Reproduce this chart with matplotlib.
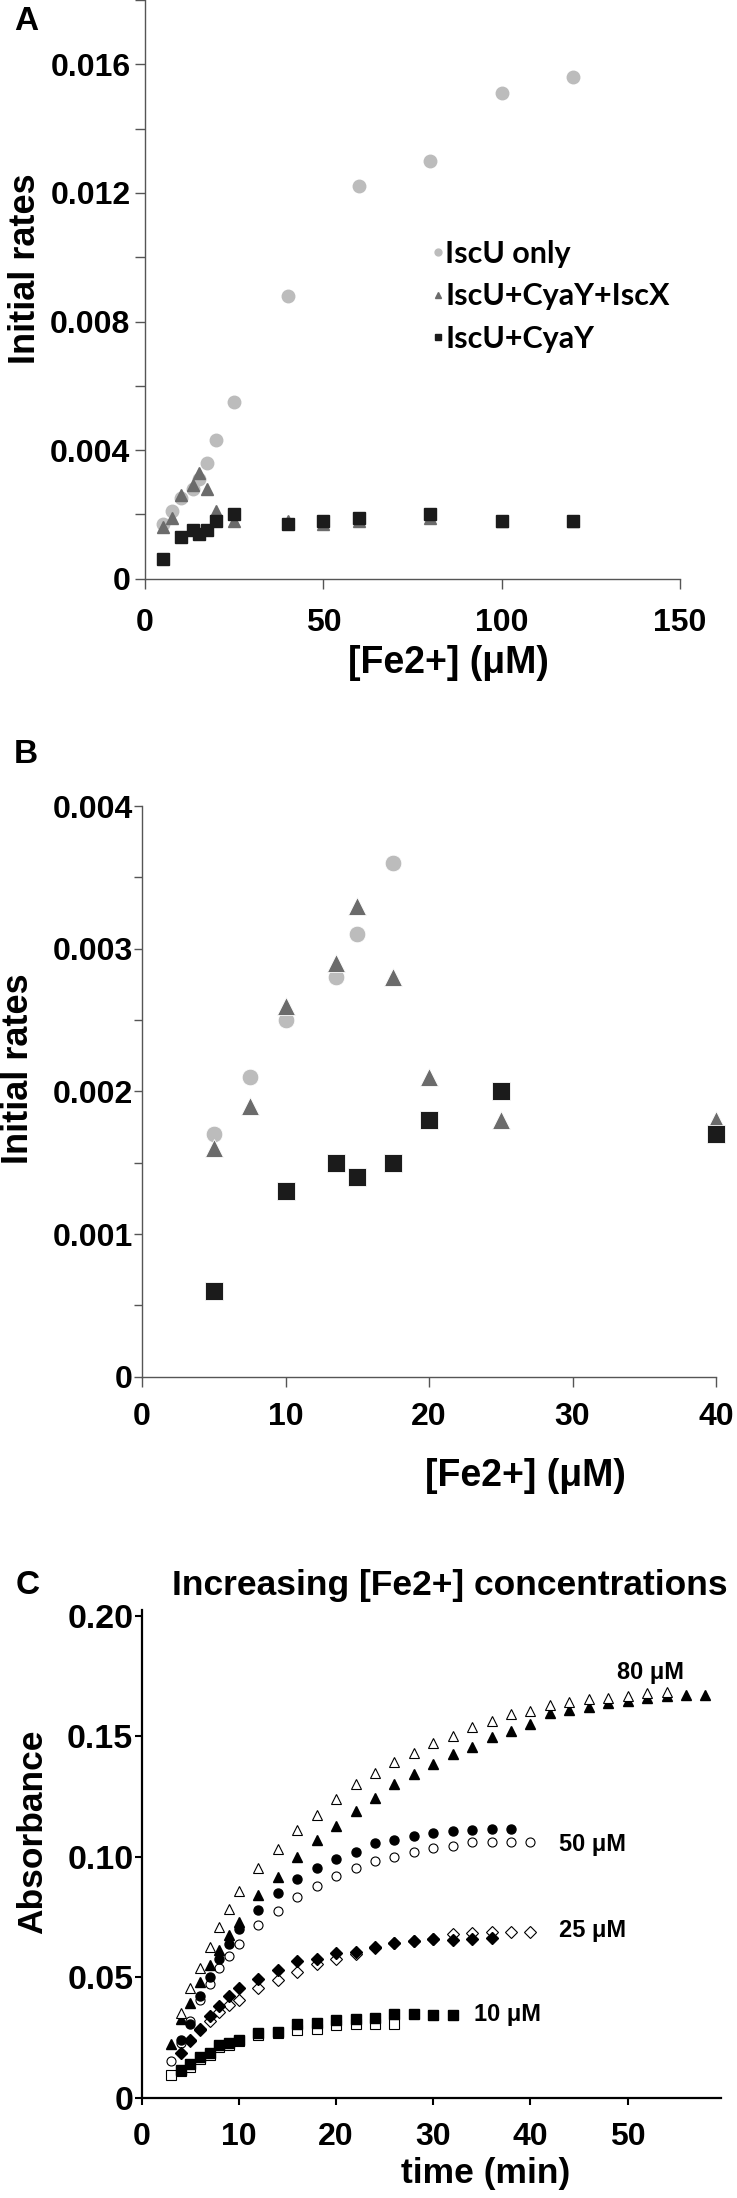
import matplotlib
matplotlib.use("Agg")
import matplotlib.pyplot as plt
from matplotlib.ticker import MultipleLocator, FixedLocator

plt.rcParams['font.family'] = ['Liberation Sans', 'DejaVu Sans']
plt.rcParams['font.weight'] = 'bold'

W, H = 737, 2198

# ---- panels A / B: initial rates vs [Fe2+] ----
fe_iscu = [5, 7.5, 10, 13.5, 15, 17.5, 20, 25, 40, 60, 80, 100, 120]
rate_iscu = [0.0017, 0.0021, 0.0025, 0.0028, 0.0031, 0.0036, 0.0043, 0.0055,
             0.0088, 0.0122, 0.0130, 0.0151, 0.0156]

fe_iscx = [5, 7.5, 10, 13.5, 15, 17.5, 20, 25, 40, 50, 60, 80, 100, 120]
rate_iscx = [0.0016, 0.0019, 0.0026, 0.0029, 0.0033, 0.0028, 0.0021, 0.0018,
             0.0018, 0.0017, 0.0018, 0.0019, 0.0018, 0.0018]

fe_cyay = [5, 10, 13.5, 15, 17.5, 20, 25, 40, 50, 60, 80, 100, 120]
rate_cyay = [0.0006, 0.0013, 0.0015, 0.0014, 0.0015, 0.0018, 0.0020, 0.0017,
             0.0018, 0.0019, 0.0020, 0.0018, 0.0018]

# ---- panel C: absorbance vs time ----
t80_open = [4, 5, 6, 7, 8, 9, 10] + list(range(12, 55, 2))
a80_open = [0.0353, 0.0455, 0.0538, 0.0627, 0.0710, 0.0784, 0.0858,
            0.0955, 0.1031, 0.1111, 0.1173, 0.1240, 0.1300, 0.1346, 0.1394,
            0.1432, 0.1470, 0.1500, 0.1540, 0.1565, 0.1590, 0.1605, 0.1630,
            0.1640, 0.1654, 0.1657, 0.1667, 0.1678, 0.1685]
t80_fill = [3, 4, 5, 6, 7, 8, 9, 10] + list(range(12, 59, 2))
a80_fill = [0.0225, 0.0327, 0.0392, 0.0482, 0.0550, 0.0614, 0.0676, 0.0731,
            0.0842, 0.0918, 0.1001, 0.1070, 0.1129, 0.1191, 0.1242, 0.1300,
            0.1343, 0.1383, 0.1425, 0.1457, 0.1495, 0.1523, 0.1550, 0.1595,
            0.1609, 0.1622, 0.1636, 0.1646, 0.1657, 0.1667, 0.1671, 0.1671]
t50_fill = [4, 5, 6, 7, 8, 9, 10] + list(range(12, 39, 2))
a50_fill = [0.0242, 0.0305, 0.0423, 0.0503, 0.0576, 0.0637, 0.0701,
            0.0779, 0.0849, 0.0907, 0.0955, 0.0992, 0.1019, 0.1056, 0.1070,
            0.1088, 0.1100, 0.1107, 0.1111, 0.1114, 0.1114]
t50_open = [3, 4, 5, 6, 7, 8, 9, 10] + list(range(12, 41, 2))
a50_open = [0.0155, 0.0230, 0.0320, 0.0406, 0.0473, 0.0538, 0.0590, 0.0637,
            0.0716, 0.0775, 0.0832, 0.0880, 0.0920, 0.0952, 0.0984, 0.0999,
            0.1019, 0.1038, 0.1046, 0.1060, 0.1060, 0.1063, 0.1063]
t25_fill = [4, 5, 6, 7, 8, 9, 10] + list(range(12, 37, 2))
a25_fill = [0.0185, 0.0240, 0.0285, 0.0340, 0.0381, 0.0423, 0.0456,
            0.0492, 0.0532, 0.0567, 0.0578, 0.0602, 0.0607, 0.0625, 0.0641,
            0.0652, 0.0659, 0.0655, 0.0659, 0.0665]
t25_open = [5, 6, 7, 8, 9, 10] + list(range(12, 41, 2))
a25_open = [0.0235, 0.0280, 0.0320, 0.0355, 0.0386, 0.0406,
            0.0455, 0.0489, 0.0521, 0.0556, 0.0576, 0.0597, 0.0620, 0.0641,
            0.0650, 0.0660, 0.0680, 0.0683, 0.0687, 0.0690, 0.0690]
t10_fill = [4, 5, 6, 7, 8, 9, 10] + list(range(12, 33, 2))
a10_fill = [0.0115, 0.0141, 0.0169, 0.0185, 0.0218, 0.0230, 0.0242,
            0.0268, 0.0274, 0.0306, 0.0310, 0.0323, 0.0329, 0.0333, 0.0347,
            0.0347, 0.0343, 0.0343]
t10_open = [3, 4, 5, 6, 7, 8, 9, 10] + list(range(12, 27, 2))
a10_open = [0.0097, 0.0110, 0.0127, 0.0160, 0.0180, 0.0210, 0.0220, 0.0235,
            0.0260, 0.0270, 0.0282, 0.0286, 0.0302, 0.0306, 0.0308, 0.0308]

c_light = '#bcbcbc'
c_mid = '#6b6b6b'
c_dark = '#1b1b1b'


def fx(x):
    return x / W


def fy(y):
    return 1 - y / H


def axes_px(left, top, right, bottom):
    return [fx(left), fy(bottom), (right - left) / W, (bottom - top) / H]


fig = plt.figure(figsize=(W / 100, H / 100), dpi=100)


def style_axes(ax, color, lw):
    for s in ['top', 'right']:
        ax.spines[s].set_visible(False)
    for s in ['left', 'bottom']:
        ax.spines[s].set_color(color)
        ax.spines[s].set_linewidth(lw)


# ================= A =================
axA = fig.add_axes(axes_px(145, 0, 680, 578.7))
style_axes(axA, '#555555', 1.0)
axA.plot(fe_iscu, rate_iscu, 'o', ms=9, color=c_light, mec=c_light,
         label='IscU only', clip_on=False, zorder=3)
axA.plot(fe_iscx, rate_iscx, '^', ms=9, color=c_mid, mec=c_mid,
         label='IscU+CyaY+IscX', clip_on=False, zorder=4)
axA.plot(fe_cyay, rate_cyay, 's', ms=9, color=c_dark, mec=c_dark,
         label='IscU+CyaY', clip_on=False, zorder=5)
axA.set_xlim(0, 150)
axA.set_ylim(0, 0.018)
axA.xaxis.set_major_locator(MultipleLocator(50))
axA.yaxis.set_major_locator(FixedLocator([0, 0.004, 0.008, 0.012, 0.016]))
axA.yaxis.set_minor_locator(FixedLocator([0.002, 0.006, 0.010, 0.014, 0.018]))
axA.set_yticklabels(['0', '0.004', '0.008', '0.012', '0.016'])
axA.tick_params(axis='both', which='both', direction='out', color='#555555',
                width=1.0, labelsize=23)
axA.tick_params(axis='y', which='both', length=7, pad=3.5)
axA.tick_params(axis='x', length=7, pad=14)
axA.set_ylabel('Initial rates', fontsize=26, fontweight='bold')
axA.set_xlabel('[Fe2+] (\u03bcM)', fontsize=27, fontweight='bold')
axA.yaxis.label.set_verticalalignment('center')
axA.xaxis.label.set_verticalalignment('center')
axA.yaxis.set_label_coords(fx(26), fy(269), transform=fig.transFigure)
axA.xaxis.set_label_coords(fx(448), fy(663), transform=fig.transFigure)
leg = axA.legend(loc='upper left', bbox_to_anchor=(fx(433), fy(240)),
                 bbox_transform=fig.transFigure, frameon=False, borderpad=0,
                 borderaxespad=0, handlelength=0.3, handletextpad=0.1,
                 labelspacing=0.47, markerscale=0.55,
                 prop={'family': 'Lato', 'weight': 'bold', 'size': 22})
fig.text(fx(26), fy(21), 'A', fontsize=24, fontweight='bold',
         ha='center', va='center')

# ================= B =================
axB = fig.add_axes(axes_px(142, 806, 716, 1376.7))
style_axes(axB, '#555555', 1.0)
axB.plot(fe_iscu, rate_iscu, 'o', ms=12, color=c_light, mec='white', mew=0.6,
         clip_on=True, zorder=3)
axB.plot(fe_iscx, rate_iscx, '^', ms=13, color=c_mid, mec='white', mew=0.6,
         clip_on=False, zorder=4)
fe_cyay_b = [f for f in fe_cyay if f <= 40]
rate_cyay_b = rate_cyay[:len(fe_cyay_b)]
axB.plot(fe_cyay_b, rate_cyay_b, 's', ms=13, color=c_dark, mec='white',
         mew=0.6, clip_on=False, zorder=5)
axB.set_xlim(0, 40)
axB.set_ylim(0, 0.004)
axB.xaxis.set_major_locator(MultipleLocator(10))
axB.yaxis.set_major_locator(FixedLocator([0, 0.001, 0.002, 0.003, 0.004]))
axB.yaxis.set_minor_locator(MultipleLocator(0.0005))
axB.set_yticklabels(['0', '0.001', '0.002', '0.003', '0.004'])
axB.tick_params(axis='both', which='both', direction='out', color='#555555',
                width=1.0, labelsize=23)
axB.tick_params(axis='y', which='both', length=6, pad=0.5)
axB.tick_params(axis='x', length=7, pad=11.5)
axB.set_ylabel('Initial rates', fontsize=26, fontweight='bold')
axB.set_xlabel('[Fe2+] (\u03bcM)', fontsize=27, fontweight='bold')
axB.yaxis.label.set_verticalalignment('center')
axB.xaxis.label.set_verticalalignment('center')
axB.yaxis.set_label_coords(fx(19), fy(1069), transform=fig.transFigure)
axB.xaxis.set_label_coords(fx(525), fy(1476), transform=fig.transFigure)
fig.text(fx(26), fy(754), 'B', fontsize=24, fontweight='bold',
         ha='center', va='center')

# ================= C =================
c_top = 2098 - 0.2025 * 2412
axC = fig.add_axes(axes_px(141.7, c_top, 721, 2098))
style_axes(axC, 'black', 1.6)
ms_c = 6.5
axC.plot(t10_open, a10_open, 's', ms=ms_c + 1, mfc='white', mec='black',
         mew=0.8, zorder=3)
axC.plot(t10_fill, a10_fill, 's', ms=ms_c, color='black', zorder=4)
axC.plot(t25_open, a25_open, 'D', ms=ms_c - 0.5, mfc='white', mec='black',
         mew=0.8, zorder=3)
axC.plot(t25_fill, a25_fill, 'D', ms=ms_c - 0.5, color='black', zorder=4)
axC.plot(t50_open, a50_open, 'o', ms=ms_c, mfc='white', mec='black',
         mew=0.8, zorder=3)
axC.plot(t50_fill, a50_fill, 'o', ms=ms_c, color='black', zorder=4)
axC.plot(t80_fill, a80_fill, '^', ms=ms_c + 0.5, color='black', zorder=4)
axC.plot(t80_open, a80_open, '^', ms=ms_c + 0.5, mfc='white', mec='black',
         mew=0.8, zorder=5)
axC.set_xlim(0, 59.6)
axC.set_ylim(0, 0.2025)
axC.xaxis.set_major_locator(FixedLocator([0, 10, 20, 30, 40, 50]))
axC.yaxis.set_major_locator(FixedLocator([0, 0.05, 0.10, 0.15, 0.20]))
axC.set_yticklabels(['0', '0.05', '0.10', '0.15', '0.20'])
axC.tick_params(axis='both', direction='out', color='black', width=1.5,
                length=5, labelsize=23)
axC.tick_params(axis='y', pad=1, labelsize=24.5)
axC.tick_params(axis='x', pad=12)
axC.set_ylabel('Absorbance', fontsize=25.5, fontweight='bold')
axC.set_xlabel('time (min)', fontsize=25.5, fontweight='bold')
axC.yaxis.label.set_verticalalignment('center')
axC.xaxis.label.set_verticalalignment('center')
axC.yaxis.set_label_coords(fx(33), fy(1832), transform=fig.transFigure)
axC.xaxis.set_label_coords(fx(486), fy(2173), transform=fig.transFigure)

conc_labels = ['80 \u03bcM', '50 \u03bcM', '25 \u03bcM', '10 \u03bcM']
conc_pos = [(650.7, 1672.7), (592.7, 1845), (593, 1931), (507.5, 2015)]
for lab, (px, py) in zip(conc_labels, conc_pos):
    fig.text(fx(px), fy(py), lab, fontsize=17, fontweight='bold',
             ha='center', va='center')

fig.text(fx(28), fy(1585), 'C', fontsize=24, fontweight='bold',
         ha='center', va='center')
fig.text(fx(450), fy(1585), 'Increasing [Fe2+] concentrations',
         fontsize=25.5, fontweight='bold', ha='center', va='center')

fig.savefig('out.png', dpi=100)
